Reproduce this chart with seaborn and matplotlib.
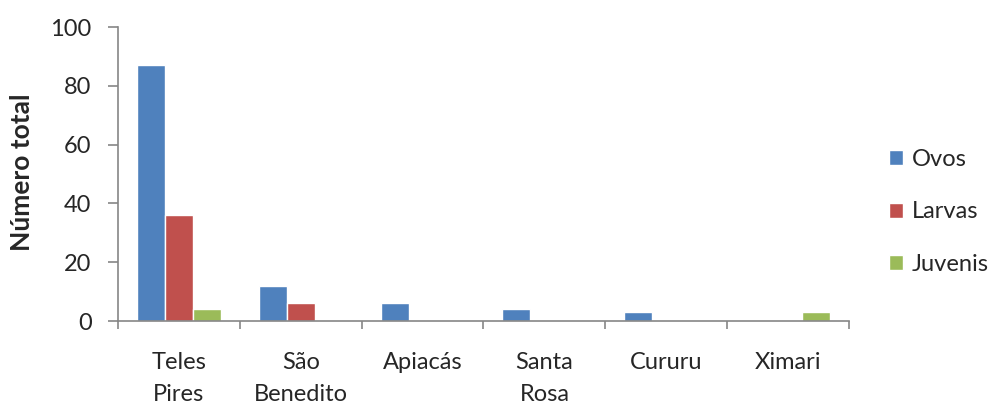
import matplotlib
matplotlib.use("Agg")
import matplotlib.pyplot as plt
import seaborn as sns
import pandas as pd
from matplotlib.ticker import FixedLocator

sites = ["Teles\nPires", "São\nBenedito", "Apiacás", "Santa\nRosa", "Cururu", "Ximari"]
ovos = [87, 12, 6, 4, 3, 0]
larvas = [36, 6, 0, 0, 0, 0]
juvenis = [4, 0, 0, 0, 0, 3]
series = ["Ovos", "Larvas", "Juvenis"]
colors = ["#4F81BD", "#C0504D", "#9BBB59"]

df = pd.DataFrame({
    "local": sites * 3,
    "grupo": [s for s in series for _ in sites],
    "valor": ovos + larvas + juvenis,
})

sns.set_theme(style="white")
plt.rcParams["font.family"] = ["Lato", "DejaVu Sans"]

fig = plt.figure(figsize=(10.03, 4.05), dpi=100)
ax = fig.add_axes([118 / 1003, 1 - 321 / 405, (849 - 118) / 1003, (321 - 27) / 405])

sns.barplot(data=df, x="local", y="valor", hue="grupo", hue_order=series,
            palette=colors, width=0.69, saturation=1, ax=ax, legend=True)

axis_color = "#868686"
fs = 17
ax.set_ylim(0, 100)
ax.set_xlim(-0.5, 5.5)
ax.set_yticks([0, 20, 40, 60, 80, 100])
ax.tick_params(axis="y", direction="out", length=7, width=1.2, color=axis_color,
               labelsize=fs, left=True, pad=12)
ax.tick_params(axis="x", which="major", length=0, labelsize=fs, pad=22)
ax.xaxis.set_minor_locator(FixedLocator([i - 0.5 for i in range(7)]))
ax.tick_params(axis="x", which="minor", direction="out", length=6, width=1.2,
               color=axis_color, bottom=True)
for lbl in ax.get_xticklabels():
    lbl.set_linespacing(1.7)

for side in ["top", "right"]:
    ax.spines[side].set_visible(False)
for side in ["left", "bottom"]:
    ax.spines[side].set_color(axis_color)
    ax.spines[side].set_linewidth(1.2)

ax.set_xlabel("")
ax.set_ylabel("Número total", fontsize=19, fontweight="bold")
ax.yaxis.set_label_coords(34 / 1003, 1 - 172 / 405, transform=fig.transFigure)
ax.grid(False)

handles, labels = ax.get_legend_handles_labels()
ax.legend(handles, labels, loc="center left", bbox_to_anchor=(889 / 1003, 1 - 212 / 405),
          bbox_transform=fig.transFigure, frameon=False, fontsize=fs,
          handlelength=0.6, handleheight=0.6, handletextpad=0.35,
          labelspacing=1.33, borderpad=0, borderaxespad=0)

fig.savefig("out.png", dpi=100)
